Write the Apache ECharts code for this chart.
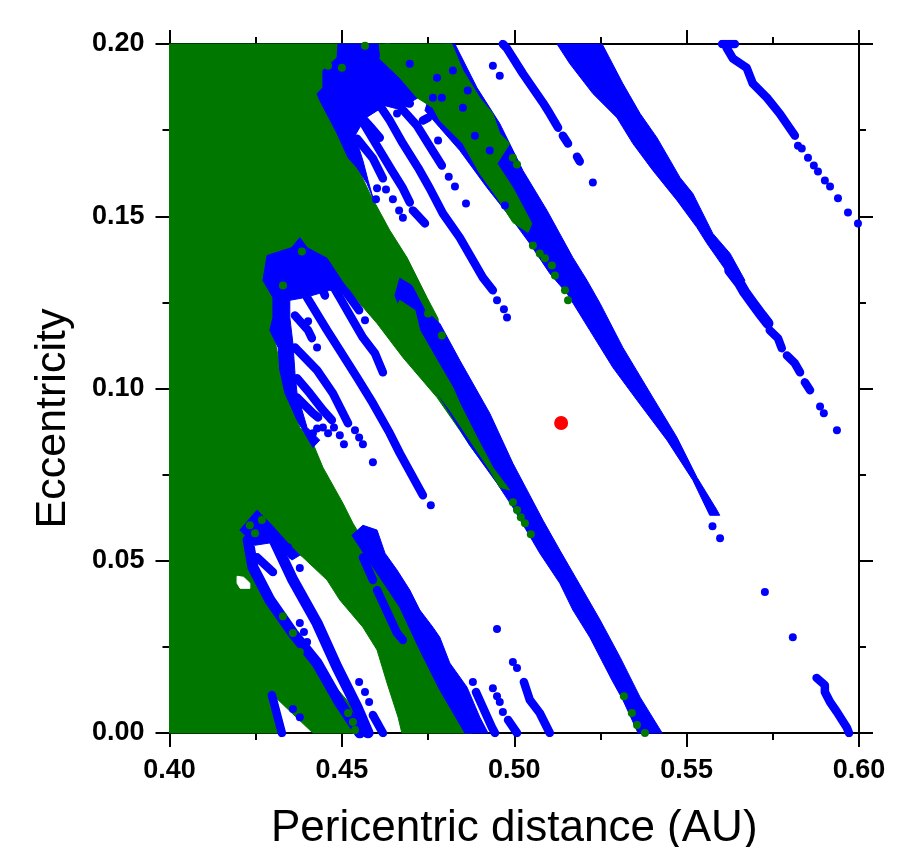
<!DOCTYPE html>
<html>
<head>
<meta charset="utf-8">
<style>html,body{margin:0;padding:0;background:#fff}#c{width:917px;height:847px}</style>
<script src="https://cdn.jsdelivr.net/npm/echarts@6/dist/echarts.min.js"></script>
</head>
<body>
<div id="c"></div>
<script>
// Unstable / chaotic regions: [pericentric distance, eccentricity]
const greenMain = [[.40,.20],[.4639,.20],[.4625,.1908],[.4538,.1836],[.4523,.1691],[.4581,.1566],[.4639,.1459],[.4689,.1380],[.4747,.1264],[.4779,.1203],[.4784,.1125],[.4842,.0966],[.4900,.0835],[.4958,.0719],[.4871,.0835],[.4842,.0879],[.4776,.0974],[.4677,.1090],[.4602,.1189],[.4544,.1256],[.4494,.1299],[.4422,.1328],[.4335,.1256],[.4300,.1169],[.4329,.1024],[.4378,.0887],[.4416,.0841],[.4445,.0771],[.4503,.0667],[.4532,.0609],[.4619,.0464],[.4689,.0365],[.4747,.0241],[.4813,.0096],[.4877,0],[.4674,0],[.4663,.0046],[.4631,.0145],[.4602,.0241],[.4561,.0307],[.4494,.0386],[.4457,.0444],[.4387,.0510],[.4291,.0589],[.4239,.0560],[.4257,.0452],[.4300,.0357],[.4378,.0249],[.4457,.0162],[.4532,.0075],[.4573,0],[.4416,0],[.4291,.0119],[.4329,0],[.40,0]];
const whiteHole = [[.4196,.0455],[.4215,.0452],[.4233,.0435],[.4233,.0420],[.4205,.0420],[.4196,.0435]];
const blueBand1 = [[.4799,.20],[.4828,.20],[.4892,.1873],[.4958,.1769],[.5025,.1633],[.5095,.1517],[.5170,.1380],[.5211,.1314],[.5249,.1247],[.5315,.1119],[.5402,.0974],[.5472,.0858],[.5530,.0742],[.5588,.0647],[.5596,.0632],[.5567,.0632],[.5518,.0734],[.5443,.0850],[.5356,.0966],[.5286,.1061],[.5219,.1169],[.5153,.1276],[.5103,.1334],[.5045,.1421],[.4996,.1488],[.4921,.1583],[.4842,.1691],[.4784,.1757],[.4741,.1807]];
const blueBand2 = [[.4668,.1320],[.4703,.1299],[.4741,.1227],[.4784,.1189],[.4842,.1082],[.4929,.0928],[.4996,.0783],[.5083,.0618],[.5132,.0531],[.5199,.0415],[.5249,.0328],[.5307,.0220],[.5365,.0104],[.5429,0],[.5359,0],[.5315,.0096],[.5283,.0154],[.5219,.0278],[.5170,.0357],[.5132,.0435],[.5074,.0522],[.4996,.0655],[.4950,.0725],[.4871,.0835],[.4799,.0951],[.4726,.1067],[.4683,.1198],[.4654,.1270]];
const blueBand3 = [[.5124,.20],[.5255,.20],[.5315,.1885],[.5365,.1798],[.5414,.1728],[.5481,.1612],[.5518,.1566],[.5576,.1450],[.5626,.1392],[.5669,.1314],[.5655,.1293],[.5634,.1314],[.5559,.1421],[.5530,.1467],[.5472,.1546],[.5402,.1633],[.5344,.1711],[.5298,.1786],[.5228,.1856],[.5161,.1943]];
const blueArc = [[.4561,.0603],[.4602,.0589],[.4625,.0522],[.4660,.0473],[.4697,.0415],[.4726,.0357],[.4764,.0307],[.4784,.0278],[.4813,.0203],[.4863,.0133],[.4900,.0046],[.4924,0],[.4857,0],[.4784,.0125],[.4726,.0241],[.4668,.0365],[.4596,.0473],[.4529,.0574]];
const blueBlob1 = [[.4489,.20],[.4605,.20],[.4610,.1958],[.4668,.1902],[.4721,.1844],[.4692,.1827],[.4668,.1810],[.4625,.1821],[.4567,.1784],[.4538,.1734],[.4561,.1662],[.4576,.1604],[.4590,.1554],[.4573,.1595],[.4544,.1641],[.4518,.1670],[.4486,.1740],[.4436,.1836],[.4428,.1856],[.4445,.1873],[.4445,.1923],[.4486,.1960]];
const blueBlob2 = [[.4271,.1314],[.4283,.1386],[.4355,.1409],[.4378,.1438],[.4399,.1409],[.4457,.1378],[.4486,.1334],[.4518,.1285],[.4465,.1285],[.4393,.1264],[.4349,.1256],[.4349,.1206],[.4358,.1131],[.4364,.1044],[.4370,.0986],[.4399,.0887],[.4436,.0850],[.4416,.0829],[.4370,.0908],[.4335,.0986],[.4320,.1053],[.4315,.1119],[.4291,.1169],[.4300,.1206],[.4300,.1264]];
const blueBlob3 = [[.4204,.0589],[.4254,.0647],[.4297,.0603],[.4349,.0545],[.4378,.0516],[.4355,.0502],[.4306,.0554],[.4248,.0545]];
const greenStrip = [[.4625,.20],[.4819,.20],[.4851,.1923],[.4900,.1844],[.4938,.1798],[.4958,.1740],[.4987,.1711],[.4950,.1653],[.4996,.1583],[.5051,.1479],[.5040,.1453],[.4996,.1482],[.4950,.1554],[.4900,.1624],[.4851,.1711],[.4784,.1778],[.4764,.1815],[.4718,.1844],[.4668,.1902],[.4610,.1958]];
const greenBand2 = [[.4668,.1256],[.4712,.1227],[.4726,.1169],[.4776,.1082],[.4822,.1003],[.4842,.0957],[.4892,.0858],[.4938,.0771],[.4987,.0705],[.4958,.0713],[.4929,.0763],[.4871,.0850],[.4813,.0937],[.4755,.1015],[.4706,.1073],[.4668,.1131],[.4639,.1198]];

// Resonance streaks of blue points
const wideStreaks = [
  [[.4228,.0560],[.4242,.0481],[.4291,.0386],[.4358,.0290],[.4428,.0203],[.4494,.0087],[.4552,0]],
  [[.4306,.0554],[.4358,.0444],[.4428,.0319],[.4486,.0191],[.4544,.0075],[.4576,0]],
  [[.5625,.1343],[.5654,.1305],[.5669,.1279],[.5692,.1247],[.5718,.1212],[.5736,.1189]]
];
const midStreaks = [
  [[.4596,.1842],[.4639,.1778],[.4677,.1711],[.4721,.1641],[.4755,.1581],[.4793,.1508],[.4842,.1438],[.4909,.1322],[.4938,.1285]],
  [[.4674,.1812],[.4718,.1763],[.4750,.1711],[.4790,.1647]],
  [[.4581,.1914],[.4619,.1859]],
  [[.4639,.1879],[.4668,.1836],[.4697,.1827]],
  [[.4735,.1778],[.4750,.1786]],
  [[.4558,.1778],[.4605,.1699],[.4645,.1633],[.4677,.1581],[.4697,.1540]],
  [[.4544,.1725],[.4590,.1668],[.4619,.1610]],
  [[.4532,.1815],[.4587,.1755],[.4610,.1728]],
  [[.4706,.1517],[.4741,.1479]],
  [[.4399,.1264],[.4457,.1169],[.4494,.1111],[.4544,.1032],[.4590,.0957],[.4639,.0870],[.4668,.0812],[.4735,.0690]],
  [[.4460,.1322],[.4494,.1264],[.4532,.1198],[.4561,.1148],[.4596,.1102],[.4619,.1047]],
  [[.4422,.1337],[.4451,.1270]],
  [[.4474,.1322],[.4515,.1276],[.4550,.1227]],
  [[.4364,.1212],[.4402,.1169],[.4413,.1146]],
  [[.4364,.1119],[.4428,.1053],[.4474,.0986],[.4518,.0899]],
  [[.4370,.1030],[.4407,.0986],[.4445,.0937],[.4471,.0908]],
  [[.4370,.0974],[.4416,.0928],[.4431,.0916]],
  [[.4967,.20],[.4979,.1987],[.5025,.1914],[.5083,.1830],[.5103,.1798],[.5127,.1757]],
  [[.5141,.1734],[.5156,.1711]],
  [[.5182,.1673],[.5190,.1659]],
  [[.5603,.20],[.5640,.20]],
  [[.5616,.1989],[.5634,.1958],[.5674,.1931],[.5692,.1885],[.5733,.1844],[.5770,.1798],[.5814,.1734]],
  [[.5741,.1169],[.5765,.1146],[.5776,.1117]],
  [[.5791,.1096],[.5814,.1073],[.5829,.1047]],
  [[.5843,.1018],[.5858,.0995]],
  [[.5877,.0160],[.5901,.0139],[.5901,.0119],[.5916,.0090],[.5936,.0061],[.5965,.0015],[.5971,0]],
  [[.4254,.0510],[.4300,.0467]],
  [[.4590,.0052],[.4619,0]],
  [[.4297,.0110],[.4326,0]],
  [[.4561,.0510],[.4590,.0444]],
  [[.4602,.0415],[.4660,.0290],[.4677,.0270]],
  [[.4889,.0119],[.4935,.0017],[.4944,0]],
  [[.4982,.0038],[.5008,0]],
  [[.5028,.0148],[.5045,.0096],[.5074,.0058],[.5103,0]]
];
// Isolated points
const blueDots = [[.4950,.1256],[.4970,.1230],[.4979,.1206],[.4810,.1615],[.4828,.1586],[.4860,.1537],[.4779,.1720],[.4660,.1798],[.4628,.1578],[.4648,.1549],[.4666,.1517],[.4677,.1496],[.4602,.1581],[.4599,.1549],[.4758,.0661],[.4567,.1198],[.4428,.1119],[.4402,.1195],[.4538,.0879],[.4550,.0858],[.4561,.0838],[.4590,.0786],[.4506,.0838],[.4494,.0864],[.4477,.0887],[.4460,.0870],[.4445,.0887],[.4428,.0884],[.4416,.0870],[.4378,.0479],[.4355,.0516],[.4344,.0539],[.4378,.0319],[.4390,.0293],[.4399,.0264],[.4550,.0148],[.4567,.0119],[.4579,.0090],[.4358,.0070],[.4378,.0046],[.4880,.0148],[.4938,.0130],[.4950,.0107],[.4958,.0090],[.4967,.0061],[.4950,.0302],[.4996,.0206],[.5008,.0189],[.5228,.1598],[.4938,.1937],[.4958,.1908],[.5823,.1705],[.5834,.1697],[.5852,.1670],[.5869,.1647],[.5881,.1630],[.5901,.1604],[.5916,.1586],[.5939,.1552],[.5968,.1511],[.5997,.1479],[.5887,.0948],[.5898,.0928],[.5936,.0879],[.5727,.0409],[.5808,.0278],[.5575,.0600],[.5597,.0565],[.4697,.1943],[.4776,.1902],[.4822,.1923],[.4865,.1865],[.4790,.1844],[.4764,.1844],[.4851,.1815],[.4886,.1734],[.4929,.1691],[.4973,.1531]];
const greenDots = [[.4233,.0603],[.4268,.0618],[.4248,.0580],[.4329,.0339],[.4358,.0290],[.4378,.0235],[.4518,.0058],[.4532,.0032],[.4538,.0009],[.4996,.0670],[.5008,.0647],[.5019,.0626],[.5031,.0609],[.5048,.0577],[.4996,.1670],[.5008,.1650],[.5054,.1415],[.5074,.1392],[.5089,.1378],[.5109,.1357],[.5118,.1328],[.5147,.1285],[.5156,.1256],[.4750,.1218],[.4790,.1154],[.5318,.0107],[.5341,.0058],[.5356,.0023],[.5379,0],[.4460,.1937],[.4500,.1931],[.4445,.1952],[.4567,.1995],[.4329,.1299],[.4384,.1398]];
const planet = [[.5136,.09]];

const GREEN = '#007800', BLUE = '#0000ff', RED = '#ff0000';

function regionSeries(list, color, z) {
  return {
    type: 'custom', coordinateSystem: 'cartesian2d', silent: true, z,
    data: list.map(r => r[0]),
    renderItem: (params, api) => ({
      type: 'polygon',
      shape: { points: list[params.dataIndex].map(p => api.coord(p)) },
      style: { fill: color, stroke: color, lineWidth: 1, lineJoin: 'round' }
    })
  };
}
function streakSeries(list, width, z) {
  return list.map(points => ({
    type: 'line', data: points, symbol: 'none', silent: true, z, clip: true,
    lineStyle: { color: BLUE, width, cap: 'round', join: 'round' }
  }));
}
function dotSeries(points, color, size, z) {
  return { type: 'scatter', data: points, symbol: 'circle', symbolSize: size, silent: true, z, itemStyle: { color, opacity: 1 } };
}

const tickLine = { color: '#000', width: 2 };
function axisBase(extra) {
  return Object.assign({
    type: 'value', interval: 0.05, splitLine: { show: false },
    axisLine: { show: true, onZero: false, lineStyle: tickLine },
    axisTick: { show: true, length: 14, lineStyle: tickLine },
    minorTick: { show: true, splitNumber: 2, length: 7, lineStyle: tickLine },
    minorSplitLine: { show: false }
  }, extra);
}
const tickFont = { color: '#000', fontFamily: 'Liberation Sans', fontWeight: 'bold', fontSize: 27, formatter: v => v.toFixed(2) };
const nameFontX = { color: '#000', fontFamily: 'Liberation Sans', fontSize: 44 };
const nameFontY = { color: '#000', fontFamily: 'Liberation Sans', fontSize: 43 };

const chart = echarts.init(document.getElementById('c'), null, { renderer: 'canvas' });
chart.setOption({
  animation: false,
  backgroundColor: '#fff',
  grid: { left: 169.5, right: 58, top: 44, bottom: 114, containLabel: false, outerBoundsMode: 'none' },
  xAxis: [
    axisBase({ min: .40, max: .60, position: 'bottom', name: 'Pericentric distance (AU)', nameLocation: 'middle', nameGap: 74, nameTextStyle: nameFontX,
      axisLabel: Object.assign({ margin: 24 }, tickFont) }),
    axisBase({ min: .40, max: .60, position: 'top', axisLabel: { show: false } })
  ],
  yAxis: [
    axisBase({ min: 0, max: .20, position: 'left', name: 'Eccentricity', nameLocation: 'middle', nameGap: 95, nameRotate: 90,
      nameTextStyle: Object.assign({ padding: [0, 0, 0, -60] }, nameFontY),
      axisLabel: Object.assign({ margin: 25 }, tickFont) }),
    axisBase({ min: 0, max: .20, position: 'right', axisLabel: { show: false } })
  ],
  series: [
    regionSeries([greenMain], GREEN, 2),
    regionSeries([whiteHole], '#fff', 3),
    regionSeries([blueBand1, blueBand2, blueBand3, blueArc, blueBlob1, blueBlob2, blueBlob3], BLUE, 4),
    regionSeries([greenStrip, greenBand2], GREEN, 5),
    ...streakSeries(wideStreaks, 11, 6),
    ...streakSeries(midStreaks, 8.5, 6),
    dotSeries(blueDots, BLUE, 8, 7),
    dotSeries(greenDots, GREEN, 8, 8),
    dotSeries(planet, RED, 14, 9)
  ]
});
</script>
</body>
</html>
